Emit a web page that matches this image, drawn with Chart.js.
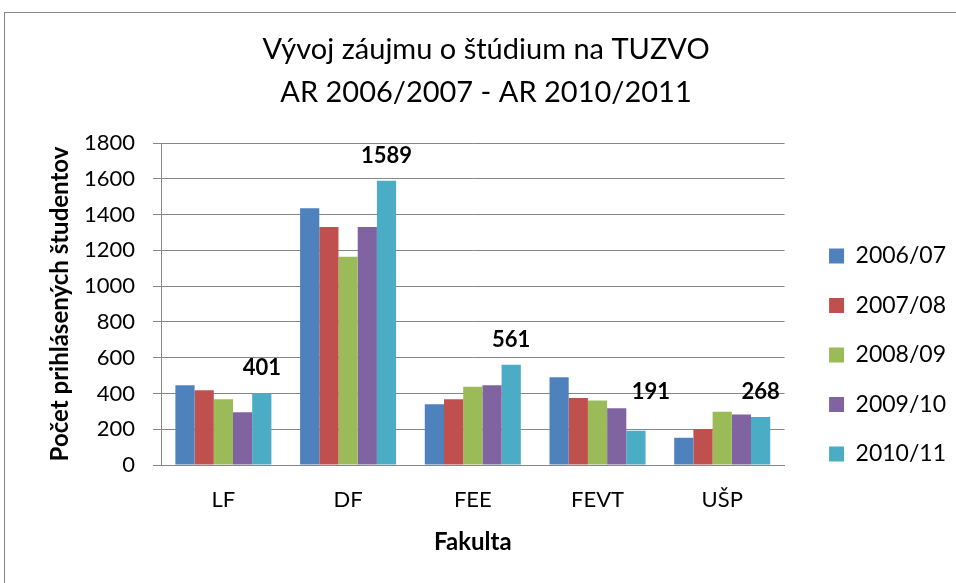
<!DOCTYPE html>
<html>
<head>
<meta charset="utf-8">
<script src="https://cdn.jsdelivr.net/npm/chart.js@4"></script>
<style>
  html, body { margin: 0; padding: 0; background: #ffffff; }
  #wrap { position: relative; width: 956px; height: 583px; overflow: hidden; }
  #frame { position: absolute; left: 4px; top: 12px; width: 1000px; height: 700px;
           border-left: 1px solid #868686; border-top: 1px solid #868686; }
  canvas { position: absolute; left: 0; top: 0; }
</style>
</head>
<body>
<div id="wrap">
  <div id="frame"></div>
  <canvas id="c" width="956" height="583"></canvas>
</div>
<script>
const categories = ['LF', 'DF', 'FEE', 'FEVT', 'UŠP'];
const seriesNames = ['2006/07', '2007/08', '2008/09', '2009/10', '2010/11'];
const values2006 = [446, 1436, 340, 491, 153];
const values2007 = [418, 1330, 368, 375, 201];
const values2008 = [368, 1164, 438, 360, 297];
const values2009 = [295, 1330, 446, 317, 282];
const values2010 = [401, 1589, 561, 191, 268];
const seriesColors = ['#4F81BD', '#C0504D', '#9BBB59', '#8064A2', '#4BACC6'];
const titleLines = ['Vývoj záujmu o štúdium na TUZVO', 'AR 2006/2007 - AR 2010/2011'];
const yTitle = 'Počet prihlásených študentov';
const xTitle = 'Fakulta';

const FONT = 'Lato, "Open Sans", sans-serif';
const allValues = [values2006, values2007, values2008, values2009, values2010];

const labelPlugin = {
  id: 'lastSeriesLabels',
  afterDatasetsDraw(chart, args, opts) {
    const ctx = chart.ctx;
    const dsIndex = chart.data.datasets.length - 1;
    const meta = chart.getDatasetMeta(dsIndex);
    ctx.save();
    ctx.font = 'bold 22px ' + FONT;
    ctx.fillStyle = '#000000';
    ctx.textAlign = 'center';
    ctx.textBaseline = 'middle';
    meta.data.forEach((bar, i) => {
      const nudge = (opts.nudge && opts.nudge[i]) || [0, 0];
      ctx.fillText(String(chart.data.datasets[dsIndex].data[i]), bar.x + nudge[0], bar.y - 25 + nudge[1]);
    });
    ctx.restore();
  }
};

new Chart(document.getElementById('c'), {
  type: 'bar',
  data: {
    labels: categories,
    datasets: allValues.map((vals, k) => ({
      label: seriesNames[k],
      data: vals,
      backgroundColor: seriesColors[k],
      borderWidth: 0,
      categoryPercentage: 0.77,
      barPercentage: 1.0
    }))
  },
  options: {
    responsive: false,
    animation: false,
    devicePixelRatio: 1,
    layout: { padding: { left: 16, right: 0, top: 0, bottom: 20 } },
    plugins: {
      title: {
        display: true,
        text: titleLines,
        color: '#000000',
        font: { family: FONT, size: 29, weight: 'normal', lineHeight: 1.483 },
        padding: { top: 28.5, bottom: 28.5 }
      },
      legend: {
        position: 'right',
        align: 'start',
        title: { display: true, text: ' ', font: { size: 10, lineHeight: 1 }, padding: { top: 208, bottom: 0 } },
        labels: {
          color: '#000000',
          font: { family: FONT, size: 23 },
          boxWidth: 15,
          boxHeight: 15,
          padding: 26.5
        }
      },
      tooltip: { enabled: false },
      lastSeriesLabels: { nudge: [[0, 0], [0, 0], [0, 0], [15, -14], [0, 0]] }
    },
    scales: {
      x: {
        grid: { display: false, drawTicks: false },
        border: { display: true, color: '#868686', width: 1 },
        ticks: { color: '#000000', font: { family: FONT, size: 22 }, padding: 21.8 },
        title: {
          display: true, text: xTitle, color: '#000000',
          font: { family: FONT, size: 24, weight: 'bold' },
          padding: { top: -7.4, bottom: 6.6 }
        }
      },
      y: {
        min: 0, max: 1800,
        ticks: { stepSize: 200, color: '#000000', font: { family: FONT, size: 22 }, padding: 18,
                 callback: (v) => String(v) },
        grid: { color: '#868686', lineWidth: 1, drawTicks: true, tickLength: 8, tickColor: '#868686' },
        border: { display: true, color: '#868686', width: 1 },
        title: {
          display: true, text: yTitle, color: '#000000',
          font: { family: FONT, size: 24, weight: 'bold' },
          padding: { top: 29.6, bottom: -8.4 }
        }
      },
      gap: {
        type: 'linear',
        position: 'right',
        display: true,
        ticks: { display: false },
        grid: { display: false, drawTicks: false },
        border: { display: false },
        afterFit(scale) { scale.width = 18; }
      }
    }
  },
  plugins: [labelPlugin]
});
</script>
</body>
</html>
